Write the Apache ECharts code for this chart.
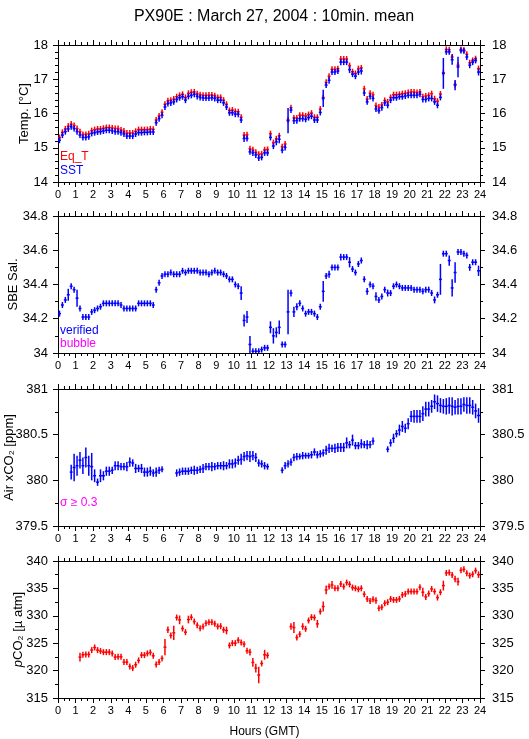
<!DOCTYPE html>
<html>
<head>
<meta charset="utf-8">
<script src="https://cdn.jsdelivr.net/npm/echarts@6/dist/echarts.min.js"></script>
<style>
  html, body { margin: 0; padding: 0; background: #fff; }
  #chart { width: 529px; height: 739px; }
</style>
</head>
<body>
<div id="chart"></div>
<script>
// 10 min means, index k -> centre of the k-th 10 min bin
const hours = []
for (let k = 0; k < 144; k++) hours.push((k + 0.5) / 6)

const sst = [
  15.22, 15.37, 15.47, 15.55, 15.61, 15.56, 15.47, 15.37, 15.30, 15.30, 15.32, 15.42,
  15.44, 15.46, 15.47, 15.49, 15.51, 15.51, 15.49, 15.47, 15.47, 15.44, 15.40, 15.34,
  15.34, 15.34, 15.40, 15.44, 15.44, 15.45, 15.45, 15.46, 15.46, 15.73, 15.85, 15.95,
  16.19, 16.29, 16.31, 16.34, 16.41, 16.46, 16.49, 16.39, 16.50, 16.53, 16.56, 16.50,
  16.47, 16.45, 16.45, 16.45, 16.46, 16.44, 16.39, 16.39, 16.31, 16.19, 16.02, 16.02,
  15.98, 15.98, 15.81, 15.27, 15.27, 14.88, 14.85, 14.79, 14.70, 14.72, 14.85, 14.85,
  15.30, 15.05, 15.17, 15.25, 14.93, 15.01, 15.79, 16.10, 15.79, 15.79, 15.85, 15.85,
  15.83, 15.88, 15.92, 15.81, 15.81, 16.03, 16.44, 16.83, 16.97, 17.21, 17.21, 17.24,
  17.50, 17.50, 17.50, 17.28, 17.15, 17.09, 17.21, 17.24, 16.60, 16.34, 16.50, 16.44,
  16.13, 16.08, 16.17, 16.31, 16.24, 16.39, 16.46, 16.46, 16.49, 16.49, 16.51, 16.53,
  16.53, 16.53, 16.53, 16.56, 16.41, 16.41, 16.44, 16.44, 16.34, 16.24, 16.47, 17.17,
  17.80, 17.80, 17.57, 16.83, 17.36, 17.84, 17.83, 17.65, 17.41, 17.50, 17.55, 17.21
]
const sstErr = [
  0.04, 0.03, 0.03, 0.04, 0.03, 0.03, 0.07, 0.04, 0.03, 0.03, 0.03, 0.03,
  0.03, 0.03, 0.03, 0.03, 0.03, 0.03, 0.03, 0.03, 0.03, 0.03, 0.03, 0.03,
  0.03, 0.03, 0.03, 0.03, 0.03, 0.03, 0.03, 0.03, 0.03, 0.04, 0.04, 0.03,
  0.06, 0.03, 0.03, 0.03, 0.03, 0.03, 0.03, 0.05, 0.03, 0.03, 0.03, 0.03,
  0.03, 0.03, 0.03, 0.03, 0.03, 0.03, 0.03, 0.03, 0.04, 0.08, 0.03, 0.03,
  0.03, 0.03, 0.07, 0.10, 0.08, 0.04, 0.03, 0.03, 0.03, 0.03, 0.04, 0.04,
  0.08, 0.08, 0.10, 0.12, 0.03, 0.03, 0.37, 0.03, 0.10, 0.05, 0.04, 0.04,
  0.04, 0.04, 0.03, 0.05, 0.05, 0.03, 0.25, 0.04, 0.10, 0.04, 0.03, 0.03,
  0.04, 0.03, 0.03, 0.10, 0.04, 0.03, 0.03, 0.10, 0.04, 0.08, 0.03, 0.04,
  0.08, 0.04, 0.04, 0.03, 0.04, 0.03, 0.03, 0.03, 0.03, 0.03, 0.03, 0.03,
  0.03, 0.03, 0.03, 0.03, 0.03, 0.03, 0.03, 0.03, 0.04, 0.06, 0.06, 0.45,
  0.03, 0.03, 0.15, 0.15, 0.30, 0.03, 0.03, 0.04, 0.08, 0.03, 0.03, 0.10
]
const eqT = [
  15.30, 15.45, 15.55, 15.63, 15.69, 15.65, 15.56, 15.47, 15.39, 15.39, 15.41, 15.50,
  15.53, 15.55, 15.55, 15.57, 15.59, 15.59, 15.58, 15.56, 15.56, 15.52, 15.49, 15.43,
  15.43, 15.43, 15.48, 15.53, 15.53, 15.53, 15.53, 15.55, 15.54, 15.81, 15.93, 16.04,
  16.27, 16.37, 16.39, 16.42, 16.49, 16.53, 16.56, 16.47, 16.59, 16.62, 16.63, 16.58,
  16.55, 16.53, 16.53, 16.54, 16.54, 16.52, 16.47, 16.47, 16.39, 16.27, 16.09, 16.10,
  16.06, 16.05, 15.89, 15.37, 15.38, 14.97, 14.94, 14.87, 14.81, 14.82, 14.94, 14.95,
  15.41, 15.15, 15.26, 15.35, 15.03, 15.11, 15.82, 16.17, 15.87, 15.87, 15.95, 15.95,
  15.93, 15.97, 16.01, 15.89, 15.89, 16.13, 16.47, 16.91, 17.09, 17.29, 17.29, 17.31,
  17.59, 17.59, 17.59, 17.40, 17.22, 17.17, 17.31, 17.33, 16.72, 16.42, 16.59, 16.55,
  16.23, 16.19, 16.25, 16.38, 16.34, 16.47, 16.55, 16.55, 16.56, 16.58, 16.59, 16.61,
  16.63, 16.63, 16.61, 16.63, 16.49, 16.51, 16.53, 16.58, 16.43, 16.36, 16.57, 17.19,
  17.87, 17.86, 17.65, 16.85, 17.41, 17.87, 17.85, 17.73, 17.48, 17.55, 17.60, 17.31
]
const EQT_ERR = 0.02

const salinity = [
  34.23, 34.28, 34.31, 34.34, 34.39, 34.37, 34.32, 34.26, 34.21, 34.21, 34.21, 34.24,
  34.25, 34.26, 34.27, 34.29, 34.29, 34.29, 34.29, 34.29, 34.29, 34.28, 34.26, 34.26,
  34.26, 34.26, 34.26, 34.29, 34.29, 34.29, 34.29, 34.29, 34.28, 34.37, 34.41, 34.45,
  34.46, 34.46, 34.47, 34.46, 34.46, 34.46, 34.48, 34.47, 34.48, 34.48, 34.48, 34.48,
  34.47, 34.47, 34.47, 34.46, 34.47, 34.48, 34.47, 34.47, 34.46, 34.45, 34.43, 34.43,
  34.40, 34.39, 34.35, 34.19, 34.21, 34.05, 34.01, 34.01, 34.01, 34.02, 34.03, 34.03,
  34.15, 34.10, 34.12, 34.15, 34.05, 34.05, 34.24, 34.35, 34.24, 34.27, 34.29, 34.26,
  34.23, 34.24, 34.24, 34.23, 34.21, 34.27, 34.36, 34.45, 34.46, 34.50, 34.50, 34.50,
  34.56, 34.56, 34.56, 34.53, 34.49, 34.47, 34.52, 34.54, 34.43, 34.36, 34.40, 34.39,
  34.33, 34.31, 34.33, 34.37, 34.35, 34.35, 34.39, 34.40, 34.39, 34.38, 34.38, 34.38,
  34.38, 34.37, 34.37, 34.37, 34.36, 34.37, 34.37, 34.35, 34.31, 34.34, 34.43, 34.58,
  34.58, 34.54, 34.38, 34.47, 34.59, 34.59, 34.58, 34.57, 34.50, 34.53, 34.53, 34.48
]
const salinityErr = [
  0.010, 0.005, 0.005, 0.035, 0.010, 0.010, 0.050, 0.015, 0.010, 0.005, 0.005, 0.005,
  0.005, 0.005, 0.005, 0.005, 0.005, 0.005, 0.005, 0.005, 0.005, 0.005, 0.005, 0.005,
  0.005, 0.005, 0.005, 0.005, 0.005, 0.005, 0.005, 0.005, 0.005, 0.015, 0.015, 0.010,
  0.005, 0.005, 0.005, 0.005, 0.005, 0.005, 0.005, 0.005, 0.005, 0.005, 0.005, 0.005,
  0.005, 0.005, 0.005, 0.005, 0.005, 0.005, 0.005, 0.005, 0.005, 0.015, 0.005, 0.005,
  0.005, 0.010, 0.040, 0.035, 0.035, 0.050, 0.005, 0.005, 0.005, 0.005, 0.005, 0.005,
  0.035, 0.045, 0.030, 0.040, 0.005, 0.005, 0.130, 0.020, 0.030, 0.020, 0.010, 0.010,
  0.005, 0.005, 0.005, 0.010, 0.010, 0.015, 0.060, 0.015, 0.020, 0.005, 0.005, 0.005,
  0.020, 0.010, 0.010, 0.030, 0.010, 0.010, 0.015, 0.010, 0.010, 0.020, 0.010, 0.010,
  0.025, 0.015, 0.010, 0.010, 0.020, 0.010, 0.005, 0.005, 0.005, 0.005, 0.005, 0.005,
  0.005, 0.005, 0.005, 0.005, 0.005, 0.005, 0.005, 0.010, 0.020, 0.010, 0.090, 0.005,
  0.005, 0.030, 0.050, 0.060, 0.010, 0.005, 0.005, 0.010, 0.020, 0.010, 0.005, 0.030
]

const airXco2 = [
  null, null, null, null,
  380.09, 380.14, 380.16, 380.22, 380.16, 380.25, 380.16, 380.15, 380.05, 379.98, 380.05, 380.05,
  380.10, 380.10, 380.11, 380.16, 380.16, 380.15, 380.15, 380.15, 380.20, 380.19, 380.13, 380.13,
  380.13, 380.09, 380.09, 380.10, 380.08, 380.09, 380.11, 380.12,
  null, null, null, null,
  380.08, 380.09, 380.10, 380.10, 380.10, 380.11, 380.11, 380.11, 380.12, 380.13, 380.15, 380.15,
  380.15, 380.15, 380.16, 380.16, 380.16, 380.16, 380.18, 380.18, 380.19, 380.22, 380.23, 380.26,
  380.27, 380.26, 380.27, 380.25, 380.19, 380.18, 380.16, 380.15,
  null, null, null, null,
  380.11, 380.16, 380.18, 380.20, 380.25, 380.26, 380.26, 380.27, 380.27, 380.27, 380.28, 380.31,
  380.28, 380.29, 380.30, 380.33, 380.35, 380.35, 380.35, 380.36, 380.36, 380.36, 380.41, 380.39,
  380.44, 380.38, 380.38, 380.40, 380.39, 380.39, 380.39, 380.43,
  null, null, null, null,
  380.34, 380.41, 380.46, 380.51, 380.55, 380.59, 380.57, 380.62, 380.70, 380.70, 380.70, 380.70,
  380.73, 380.78, 380.78, 380.81, 380.86, 380.84, 380.82, 380.81, 380.81, 380.82, 380.81, 380.80,
  380.81, 380.81, 380.83, 380.82, 380.82, 380.80, 380.76, 380.71
]
const airXco2Err = [
  null, null, null, null,
  0.08, 0.15, 0.11, 0.09, 0.09, 0.11, 0.11, 0.15, 0.07, 0.04, 0.07, 0.05,
  0.05, 0.05, 0.04, 0.05, 0.05, 0.04, 0.04, 0.05, 0.05, 0.04, 0.05, 0.04,
  0.05, 0.05, 0.05, 0.05, 0.04, 0.05, 0.04, 0.03,
  null, null, null, null,
  0.04, 0.04, 0.04, 0.04, 0.04, 0.04, 0.05, 0.04, 0.04, 0.05, 0.04, 0.04,
  0.05, 0.04, 0.04, 0.04, 0.05, 0.04, 0.05, 0.05, 0.05, 0.05, 0.06, 0.05,
  0.05, 0.06, 0.05, 0.05, 0.04, 0.04, 0.04, 0.03,
  null, null, null, null,
  0.03, 0.04, 0.04, 0.04, 0.04, 0.04, 0.03, 0.04, 0.03, 0.03, 0.04, 0.04,
  0.04, 0.04, 0.04, 0.05, 0.05, 0.04, 0.05, 0.05, 0.05, 0.05, 0.06, 0.04,
  0.06, 0.04, 0.04, 0.05, 0.04, 0.05, 0.04, 0.04,
  null, null, null, null,
  0.03, 0.04, 0.05, 0.04, 0.06, 0.06, 0.05, 0.06, 0.06, 0.07, 0.07, 0.07,
  0.08, 0.08, 0.08, 0.07, 0.08, 0.09, 0.08, 0.08, 0.09, 0.09, 0.10, 0.08,
  0.09, 0.09, 0.08, 0.09, 0.09, 0.08, 0.08, 0.08
]

const pco2 = [
  null, null, null, null, null, null, null,
  322.46, 322.89, 322.95, 322.95, 323.74, 324.22, 323.74, 323.56, 323.37, 323.37, 323.37, 323.13,
  322.46, 322.52, 322.52, 321.55, 321.55, 320.76, 320.46, 321.07, 321.86, 322.83, 322.83, 323.13,
  323.31, 322.71, 321.13, 321.55, 322.22, 324.28, 327.44, 326.41, 326.89, 329.68, 329.26, 327.68,
  327.01, 329.32, 329.74, 328.96, 328.29, 327.74, 328.05, 328.65, 328.83, 328.83, 328.53, 328.05,
  328.11, 327.44, 327.32, 324.59, 325.01, 325.01, 325.56, 325.13, 324.83, 323.62, 323.37, 321.49,
  320.46, 319.19, 321.31, 322.89, 322.77,
  null, null, null, null, null, null, null,
  328.05, 327.86, 326.04, 326.65, 328.05, 327.62, 329.14, 329.75, 329.68, 328.53, 330.78, 331.69,
  334.72, 335.33, 335.63, 335.02, 335.02, 335.81, 335.33, 336.06, 335.75, 335.15, 335.02, 334.84,
  335.02, 333.93, 333.08, 332.72, 333.02, 332.78, 331.38, 331.57, 332.29, 332.48, 333.08, 332.90,
  332.90, 333.08, 333.81, 333.99, 334.42, 334.42, 334.42, 334.42, 335.21, 334.30, 333.45, 334.05,
  334.90, 334.42, 333.33, 334.30, 335.51, 337.82, 337.88, 337.45, 336.72, 336.24, 338.30, 338.48,
  337.76, 337.33, 337.57, 338.24, 337.50
]
const pco2Err = [
  null, null, null, null, null, null, null,
  0.8, 0.3, 0.3, 0.3, 0.5, 0.3, 0.2, 0.2, 0.2, 0.2, 0.2, 0.2,
  0.4, 0.3, 0.3, 0.3, 0.3, 0.4, 0.3, 0.3, 0.4, 0.3, 0.3, 0.3,
  0.3, 0.4, 0.3, 0.3, 0.3, 1.5, 0.6, 0.3, 1.3, 0.3, 0.8, 0.3,
  0.3, 0.7, 0.4, 0.3, 0.3, 0.3, 0.3, 0.4, 0.3, 0.3, 0.3, 0.3,
  0.3, 0.3, 0.7, 0.3, 0.3, 0.3, 0.3, 0.4, 0.5, 0.4, 0.6, 0.8,
  0.8, 1.5, 0.3, 0.9, 0.5,
  null, null, null, null, null, null, null,
  0.6, 1.0, 0.3, 0.3, 0.6, 0.4, 0.3, 0.3, 0.3, 0.7, 0.4, 0.9,
  0.8, 0.4, 0.7, 0.3, 0.3, 0.3, 0.4, 0.3, 0.4, 0.3, 0.3, 0.3,
  0.5, 0.4, 0.3, 0.3, 0.5, 0.6, 0.2, 0.2, 0.3, 0.3, 0.3, 0.3,
  0.3, 0.3, 0.3, 0.3, 0.2, 0.2, 0.2, 0.2, 0.4, 0.8, 0.3, 0.3,
  0.3, 0.3, 0.4, 0.5, 0.9, 0.3, 0.3, 0.3, 0.6, 0.7, 0.3, 0.3,
  0.4, 0.3, 0.4, 0.5, 0.6
]

const hourTicks = ['0', '1', '2', '3', '4', '5', '6', '7', '8', '9', '10', '11', '12',
  '13', '14', '15', '16', '17', '18', '19', '20', '21', '22', '23', '24']

const FONT = '"Liberation Sans", "DejaVu Sans", sans-serif'
const gridTops = [45, 216, 389, 561]
const GRID_H = 137

// y scale of each panel
const panels = [
  { name: 'Temp. [°C]', min: 14, max: 18, interval: 1, minor: 5, gap: 27 },
  { name: 'SBE Sal.', min: 34, max: 34.8, interval: 0.2, minor: 2, gap: 38 },
  { name: 'Air xCO₂ [ppm]', min: 379.5, max: 381, interval: 0.5, minor: 2, gap: 42 },
  { name: '{i|p}CO₂ [µ atm]', min: 315, max: 340, interval: 5, minor: 2, gap: 33 }
]

function points (values, errors) {
  const out = []
  values.forEach((v, k) => {
    if (v !== null) out.push([hours[k], v, Array.isArray(errors) ? errors[k] : errors])
  })
  return out
}

// a cross: 10 min wide bar plus the error bar
function crossRenderer (color) {
  return function (params, api) {
    const t = api.value(0)
    const v = api.value(1)
    const e = api.value(2)
    const mid = api.coord([t, v])
    const left = api.coord([t - 1 / 12, v])[0]
    const right = api.coord([t + 1 / 12, v])[0]
    const top = Math.min(api.coord([t, v + e])[1], mid[1] - 3)
    const bottom = Math.max(api.coord([t, v - e])[1], mid[1] + 3)
    const style = { stroke: color, lineWidth: 1.5 }
    return {
      type: 'group',
      children: [
        { type: 'line', shape: { x1: left, y1: mid[1], x2: right, y2: mid[1] }, style },
        { type: 'line', shape: { x1: mid[0], y1: top, x2: mid[0], y2: bottom }, style }
      ]
    }
  }
}

const axisLine = { show: true, onZero: false, lineStyle: { color: '#000', width: 1 } }
const axisTick = { show: true, length: 5, lineStyle: { color: '#000', width: 1 } }

const grid = []
const xAxis = []
const yAxis = []
panels.forEach((p, i) => {
  grid.push({ left: 58, right: 49, top: gridTops[i], height: GRID_H, show: false, outerBoundsMode: 'none' })
  xAxis.push({
    gridIndex: i,
    type: 'value',
    min: 0,
    max: 24,
    interval: 1,
    position: 'bottom',
    axisLine,
    axisTick,
    minorTick: { show: true, splitNumber: 3, length: 3, lineStyle: { color: '#000' } },
    splitLine: { show: false },
    axisLabel: {
      color: '#000',
      fontFamily: FONT,
      fontSize: 11,
      margin: 7,
      formatter: v => hourTicks[Math.round(v)]
    }
  })
  xAxis.push({
    gridIndex: i,
    type: 'value',
    min: 0,
    max: 24,
    interval: 1,
    position: 'top',
    axisLine,
    axisTick,
    minorTick: { show: true, splitNumber: 3, length: 3, lineStyle: { color: '#000' } },
    splitLine: { show: false },
    axisLabel: { show: false }
  })
  const yBase = {
    gridIndex: i,
    type: 'value',
    min: p.min,
    max: p.max,
    interval: p.interval,
    axisLine,
    axisTick,
    minorTick: { show: true, splitNumber: p.minor, length: 3, lineStyle: { color: '#000' } },
    splitLine: { show: false }
  }
  yAxis.push(Object.assign({}, yBase, {
    position: 'left',
    name: p.name,
    nameLocation: 'middle',
    nameGap: p.gap,
    nameMoveOverlap: false,
    nameTextStyle: {
      color: '#000',
      fontFamily: FONT,
      fontSize: 13,
      rich: { i: { fontStyle: 'italic', fontFamily: FONT, fontSize: 13, color: '#000' } }
    },
    axisLabel: { color: '#000', fontFamily: FONT, fontSize: 13, margin: 10 }
  }))
  yAxis.push(Object.assign({}, yBase, {
    position: 'right',
    axisLabel: { color: '#000', fontFamily: FONT, fontSize: 13, margin: 12 }
  }))
})

function crossSeries (panel, data, color) {
  return {
    type: 'custom',
    xAxisIndex: panel * 2,
    yAxisIndex: panel * 2,
    clip: true,
    silent: true,
    renderItem: crossRenderer(color),
    encode: { x: 0, y: 1 },
    data
  }
}

function label (text, x, y, color) {
  return {
    type: 'text',
    left: x,
    top: y,
    style: { text, fill: color, font: '12px ' + FONT }
  }
}

const option = {
  animation: false,
  backgroundColor: '#fff',
  title: {
    text: 'PX90E : March 27, 2004 : 10min. mean',
    left: 269,
    top: 4,
    textAlign: 'center',
    textStyle: { color: '#000', fontFamily: FONT, fontSize: 16, fontWeight: 'normal' }
  },
  grid,
  xAxis,
  yAxis,
  series: [
    crossSeries(0, points(eqT, EQT_ERR), '#ff0000'),
    crossSeries(0, points(sst, sstErr), '#0000ff'),
    crossSeries(1, points(salinity, salinityErr), '#0000ff'),
    crossSeries(2, points(airXco2, airXco2Err), '#0000ff'),
    crossSeries(3, points(pco2, pco2Err), '#ff0000')
  ],
  graphic: [
    label('Eq_T', 60, 151, '#ff0000'),
    label('SST', 60, 165, '#0000ff'),
    label('verified', 60, 325, '#0000ff'),
    label('bubble', 60, 338, '#ff00ff'),
    label('σ ≥ 0.3', 60, 497, '#ff00ff'),
    {
      type: 'text',
      left: 'center',
      top: 726,
      style: { text: 'Hours (GMT)', fill: '#000', font: '12px ' + FONT }
    }
  ]
}

const myChart = echarts.init(document.getElementById('chart'))
myChart.setOption(option)
</script>
</body>
</html>
